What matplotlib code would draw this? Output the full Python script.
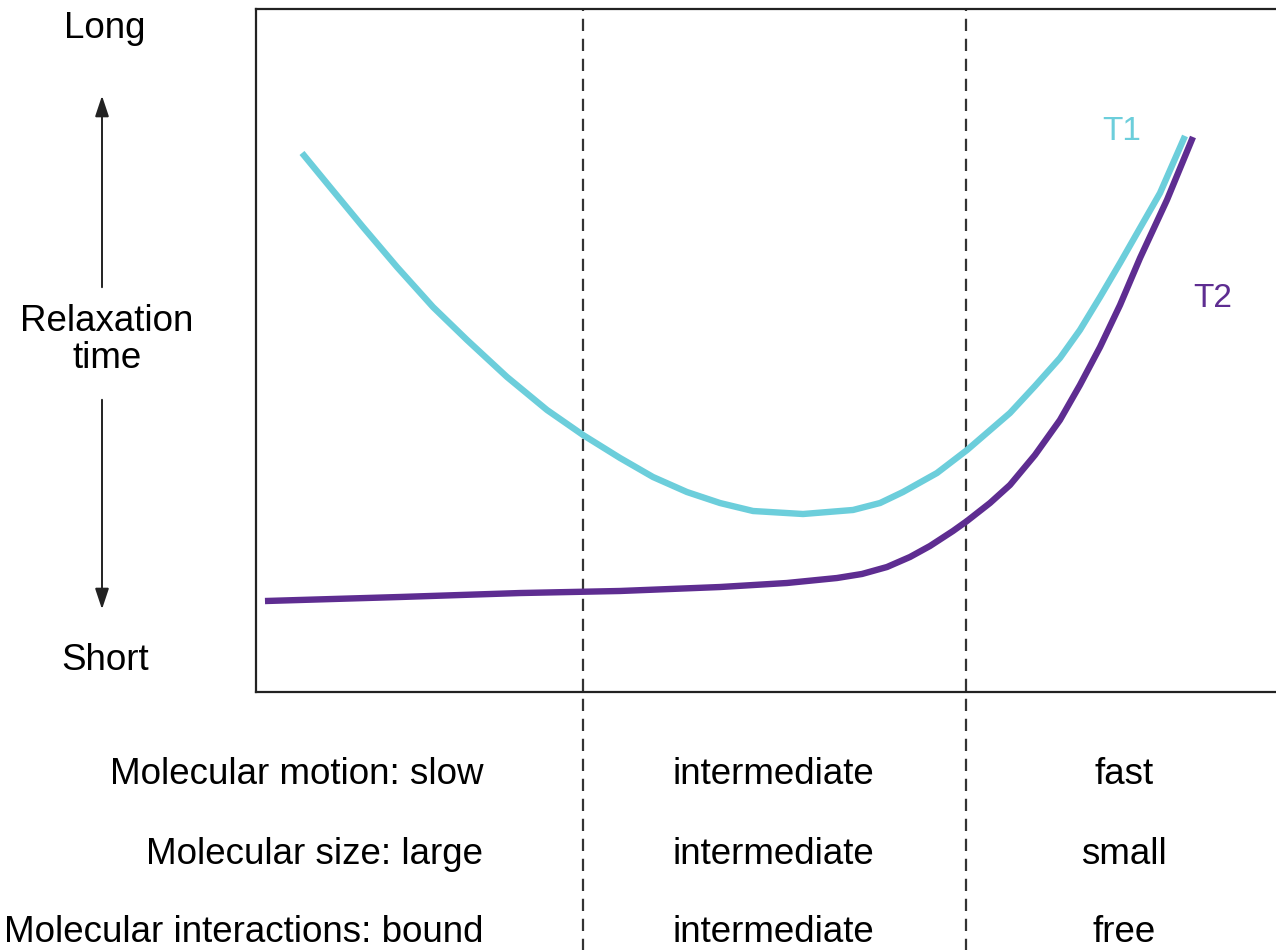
import matplotlib
matplotlib.use("Agg")
import matplotlib.pyplot as plt
from matplotlib.patches import FancyArrowPatch

plt.rcParams['font.family'] = ['Liberation Sans', 'DejaVu Sans']

# Data (arbitrary units: x 0-100 = motion scale, y 0-100 = relaxation time)
t1_x = [4.51, 7.25, 10.49, 13.82, 17.35, 20.69, 24.61, 28.53, 32.06, 35.69, 38.92, 42.25, 45.49,
        48.73, 53.63, 58.53, 61.18, 63.43, 66.76, 69.71, 73.92, 76.37, 78.82, 80.78, 82.75,
        84.71, 86.67, 88.63, 91.08]
t1_y = [78.92, 73.94, 68.08, 62.23, 56.37, 51.54, 46.12, 41.29, 37.63, 34.26, 31.48, 29.28, 27.67,
        26.50, 26.06, 26.65, 27.67, 29.28, 32.06, 35.43, 40.85, 44.80, 48.90, 53.00, 57.83,
        62.81, 67.94, 73.06, 81.41]

t2_x = [0.88, 14.12, 25.88, 35.69, 45.49, 52.06, 56.96, 59.41, 61.86, 64.12, 66.08, 68.33, 69.71,
        71.96, 73.92, 76.37, 78.82, 80.78, 82.75, 84.71, 86.67, 89.31, 91.86]
t2_y = [13.32, 13.91, 14.49, 14.79, 15.37, 15.96, 16.69, 17.28, 18.30, 19.77, 21.38, 23.57, 25.04,
        27.67, 30.31, 34.70, 39.82, 44.95, 50.51, 56.66, 63.54, 72.04, 81.26]

boundaries = [32.06, 69.6]

row_labels = ["Molecular motion: slow", "Molecular size: large", "Molecular interactions: bound"]
mid_labels = ["intermediate", "intermediate", "intermediate"]
right_labels = ["fast", "small", "free"]

T1_COLOR = "#6ccedb"
T2_COLOR = "#5e2d91"

W, H = 1276, 950
fig = plt.figure(figsize=(W / 100, H / 100), dpi=100)
ax = fig.add_axes([256 / W, 1 - 692 / H, (W - 256) / W, (692 - 9) / H])
ax.set_xlim(0, 100)
ax.set_ylim(0, 100)
ax.set_xticks([])
ax.set_yticks([])
for s in ax.spines.values():
    s.set_linewidth(1.6)
    s.set_color("#222222")
ax.spines['right'].set_visible(False)

ax.plot(t1_x, t1_y, color=T1_COLOR, lw=4.6, solid_capstyle='butt', solid_joinstyle='round', zorder=3)
ax.plot(t2_x, t2_y, color=T2_COLOR, lw=4.6, solid_capstyle='butt', solid_joinstyle='round', zorder=3)

for b in boundaries:
    ax.axvline(b, ymin=-0.38, ymax=1.0, color="#333333", lw=1.6,
               linestyle=(0, (5.5, 3.5)), clip_on=False, zorder=2)

ax.text(84.9, 82.0, "T1", color=T1_COLOR, fontsize=24, ha='center', va='center')
ax.text(93.8, 57.6, "T2", color=T2_COLOR, fontsize=24, ha='center', va='center')

fs = 26.5
# left axis annotations
fig.text(105 / W, 1 - 28 / H, "Long", fontsize=fs, ha='center', va='center')
fig.text(105 / W, 1 - 660 / H, "Short", fontsize=fs, ha='center', va='center')
fig.text(107 / W, 1 - 340 / H, "Relaxation\ntime", fontsize=fs, ha='center', va='center',
         linespacing=1.05)
fig.add_artist(FancyArrowPatch(
    (102 / W, 1 - 290 / H), (102 / W, 1 - 93 / H), transform=fig.transFigure,
    arrowstyle='-|>,head_length=0.9,head_width=0.3', mutation_scale=14, color="#222222", lw=1.4))
fig.add_artist(FancyArrowPatch(
    (102 / W, 1 - 397 / H), (102 / W, 1 - 612 / H), transform=fig.transFigure,
    arrowstyle='-|>,head_length=0.9,head_width=0.3', mutation_scale=14, color="#222222", lw=1.4))

row_y = [774, 855, 932]
for ry, l, m, r in zip(row_y, row_labels, mid_labels, right_labels):
    fig.text(483 / W, 1 - ry / H, l, fontsize=fs, ha='right', va='center')
    fig.text(773 / W, 1 - ry / H, m, fontsize=fs, ha='center', va='center')
    fig.text(1124 / W, 1 - ry / H, r, fontsize=fs, ha='center', va='center')

fig.savefig("out.png", dpi=100)
